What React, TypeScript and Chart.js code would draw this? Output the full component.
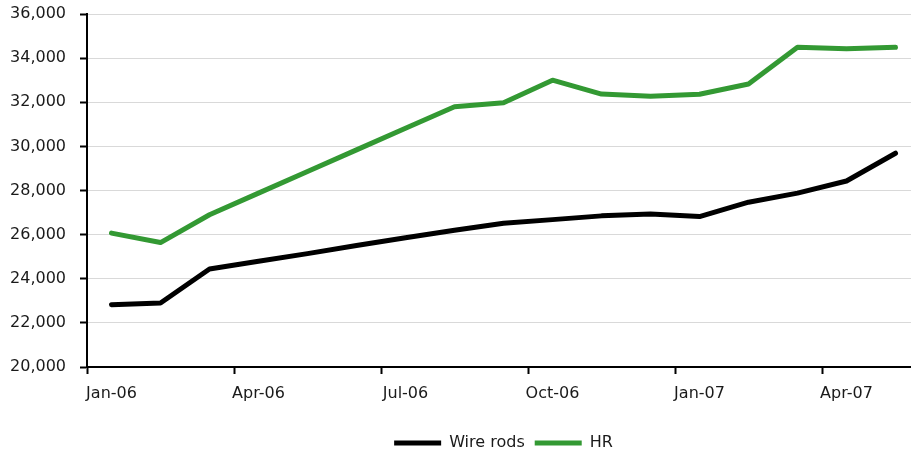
import React, { useEffect, useRef } from 'react';
import { Chart, registerables } from 'chart.js';

Chart.register(...registerables);

// Monthly prices, Jan-06 to May-07
const months = [
  'Jan-06', 'Feb-06', 'Mar-06', 'Apr-06', 'May-06', 'Jun-06', 'Jul-06', 'Aug-06', 'Sep-06',
  'Oct-06', 'Nov-06', 'Dec-06', 'Jan-07', 'Feb-07', 'Mar-07', 'Apr-07', 'May-07',
];

const wireRods = [
  22820, 22900, 24440, 24790, 25140, 25510, 25860, 26200, 26520,
  26680, 26850, 26930, 26820, 27470, 27880, 28430, 29690,
];

const hr = [
  26070, 25640, 26900, 27880, 28860, 29840, 30820, 31800, 31980,
  33000, 32370, 32270, 32360, 32830, 34490, 34430, 34490,
];

const yMin = 20000;
const yMax = 36000;
const yStep = 2000;
const labelEvery = 3;

const FONT = '"DejaVu Sans", Verdana, sans-serif';
const TEXT = '#1a1a1a';

// The plot runs a little past the right and bottom edges of the visible frame,
// so the canvas is larger than the frame that clips it.
const FRAME_W = 911;
const FRAME_H = 454;
const CANVAS_W = 920;
const CANVAS_H = 462;

export default function App() {
  const canvasRef = useRef<HTMLCanvasElement | null>(null);

  useEffect(() => {
    const canvas = canvasRef.current;
    if (!canvas) return;

    const chart = new Chart(canvas, {
      type: 'line',
      data: {
        labels: months,
        datasets: [
          {
            label: 'Wire rods',
            data: wireRods,
            borderColor: '#000000',
            backgroundColor: '#000000',
            borderWidth: 5,
            pointRadius: 0,
            borderCapStyle: 'round',
            borderJoinStyle: 'round',
            tension: 0,
          },
          {
            label: 'HR',
            data: hr,
            borderColor: '#339933',
            backgroundColor: '#339933',
            borderWidth: 5,
            pointRadius: 0,
            borderCapStyle: 'round',
            borderJoinStyle: 'round',
            tension: 0,
          },
        ],
      },
      options: {
        responsive: false,
        animation: false,
        devicePixelRatio: 1,
        layout: { padding: { top: 14, right: 0, bottom: 1, left: 0 } },
        font: { family: FONT, size: 16 },
        scales: {
          x: {
            type: 'category',
            offset: true,
            afterFit: (s: any) => {
              s.height = 58;
            },
            grid: {
              offset: true,
              drawOnChartArea: false,
              drawTicks: true,
              tickLength: 7,
              tickWidth: 2,
              tickColor: (ctx: any) => (ctx.index % labelEvery === 0 ? '#000000' : 'rgba(0,0,0,0)'),
            },
            border: { display: true, color: '#000000', width: 2 },
            ticks: {
              autoSkip: false,
              maxRotation: 0,
              padding: 10,
              color: TEXT,
              font: { family: FONT, size: 16 },
              callback: (_v: any, i: number) => (i % labelEvery === 0 ? months[i] : ''),
            },
          },
          y: {
            min: yMin,
            max: yMax,
            afterFit: (s: any) => {
              s.width = 87;
              s.paddingTop = 0;
              s.paddingBottom = 0;
            },
            grid: {
              color: '#d9d9d9',
              lineWidth: 1,
              tickLength: 7,
              tickWidth: 2,
              tickColor: '#000000',
            },
            border: { display: true, color: '#000000', width: 2 },
            ticks: {
              stepSize: yStep,
              padding: 14,
              color: TEXT,
              font: { family: FONT, size: 16 },
              callback: (v: any) => Number(v).toLocaleString('en-US'),
            },
          },
        },
        plugins: {
          tooltip: { enabled: false },
          legend: {
            position: 'bottom',
            fullSize: false,
            labels: {
              boxWidth: 47,
              boxHeight: 5,
              padding: 10,
              color: TEXT,
              font: { family: FONT, size: 16 },
              generateLabels: (c: any) =>
                Chart.defaults.plugins.legend.labels
                  .generateLabels(c)
                  .map((l: any) => ({ ...l, lineWidth: 0 })),
            },
          },
        },
      },
    });

    return () => chart.destroy();
  }, []);

  return (
    <div
      style={{
        position: 'absolute',
        left: 0,
        top: 0,
        width: FRAME_W,
        height: FRAME_H,
        overflow: 'hidden',
      }}
    >
      <canvas ref={canvasRef} width={CANVAS_W} height={CANVAS_H} style={{ display: 'block' }} />
    </div>
  );
}
